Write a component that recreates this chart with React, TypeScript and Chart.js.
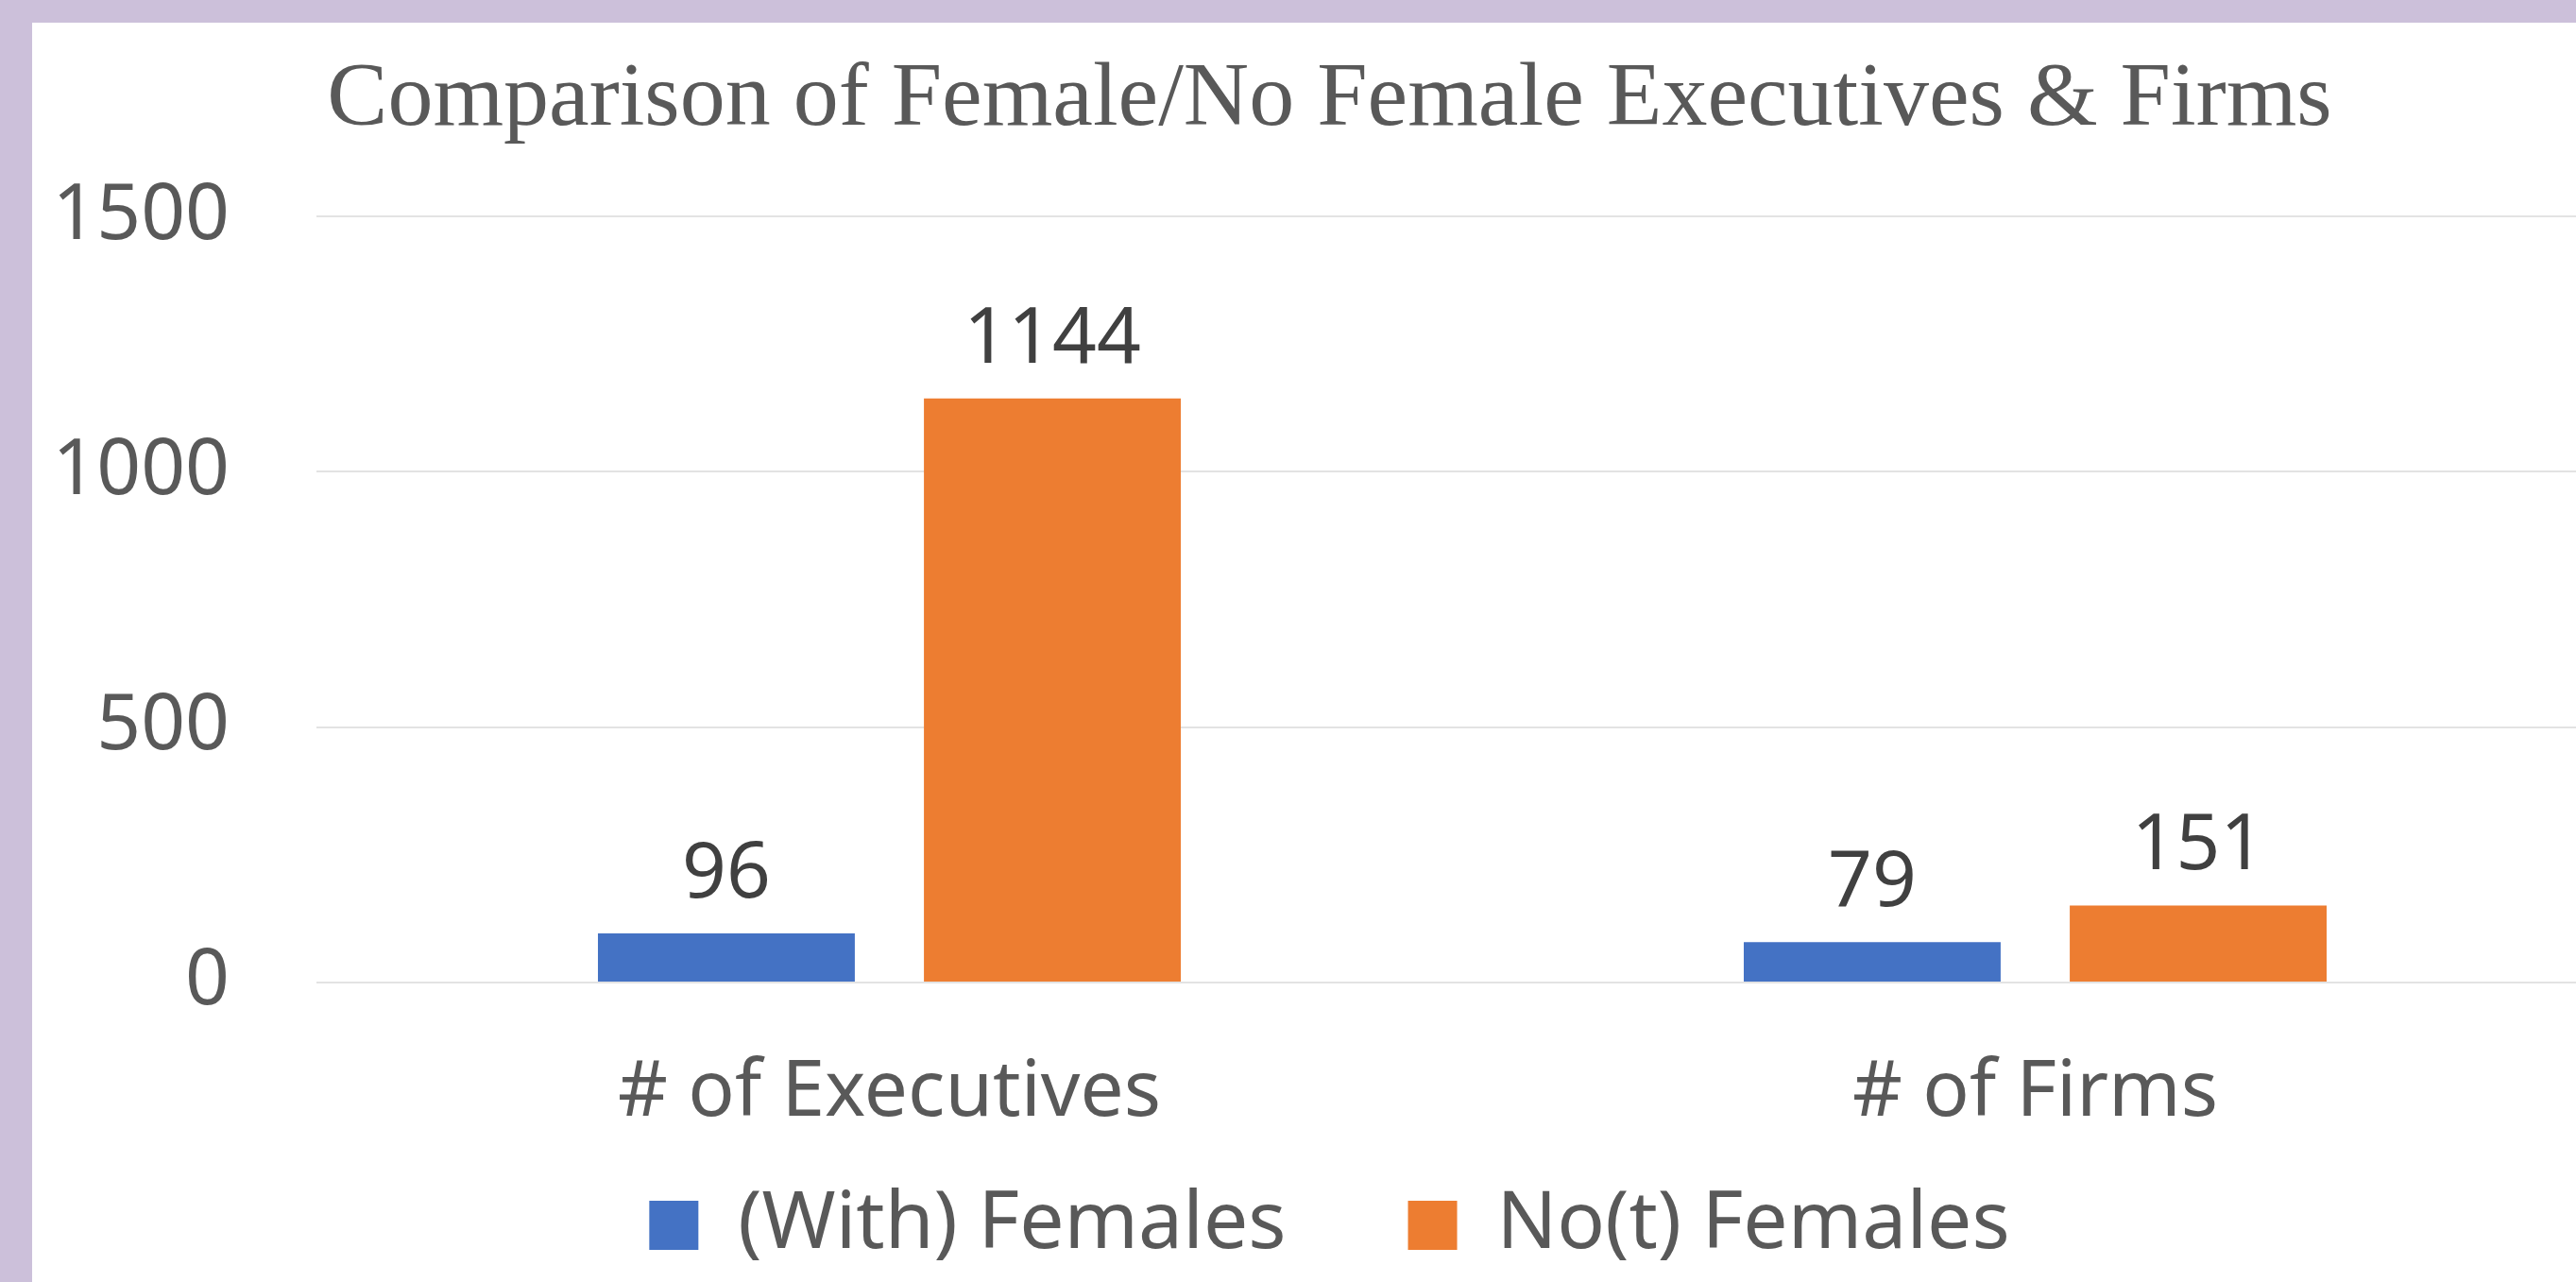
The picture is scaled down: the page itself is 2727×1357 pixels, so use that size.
import React, { useEffect, useRef } from "react";
import { Chart, registerables } from "chart.js";

Chart.register(...registerables);

const chartTitle = "Comparison of Female/No Female Executives & Firms";
const categories = ["# of Executives", "# of Firms"];
const seriesNames = ["(With) Females", "No(t) Females"];
const withFemales = [96, 79];
const notFemales = [1144, 151];
const yTicks = [0, 500, 1000, 1500];

const BLUE = "#4472C4";
const ORANGE = "#ED7D31";
const AXIS_TEXT = "#595959";
const LABEL_TEXT = "#404040";
const SANS = "'Noto Sans', 'Open Sans', sans-serif";
const SERIF = "'Liberation Serif', 'DejaVu Serif', serif";

const valueLabels = {
  id: "valueLabels",
  afterDatasetsDraw(chart: any) {
    const ctx = chart.ctx;
    ctx.save();
    ctx.font = `82px ${SANS}`;
    ctx.fillStyle = LABEL_TEXT;
    ctx.textAlign = "center";
    ctx.textBaseline = "alphabetic";
    chart.data.datasets.forEach((ds: any, di: number) => {
      const meta = chart.getDatasetMeta(di);
      meta.data.forEach((bar: any, i: number) => {
        ctx.fillText(String(ds.data[i]), bar.x, bar.y - 38);
      });
    });
    ctx.restore();
  },
};

export default function App() {
  const ref = useRef<HTMLCanvasElement | null>(null);

  useEffect(() => {
    if (!ref.current) return;
    Chart.defaults.font.family = SANS;
    const chart = new Chart(ref.current, {
      type: "bar",
      data: {
        labels: categories,
        datasets: [
          {
            label: seriesNames[0],
            data: withFemales,
            backgroundColor: BLUE,
            borderWidth: 0,
            categoryPercentage: 0.569,
            barPercentage: 0.788,
          },
          {
            label: seriesNames[1],
            data: notFemales,
            backgroundColor: ORANGE,
            borderWidth: 0,
            categoryPercentage: 0.569,
            barPercentage: 0.788,
          },
        ],
      },
      options: {
        responsive: false,
        animation: false,
        devicePixelRatio: 1,
        layout: { padding: { top: 0, left: 20, right: 0, bottom: 8 } },
        plugins: {
          tooltip: { enabled: false },
          title: {
            display: true,
            text: chartTitle,
            color: AXIS_TEXT,
            font: { family: SERIF, size: 96, weight: "normal", lineHeight: 1.2 },
            padding: { top: 25, bottom: 65 },
          },
          legend: {
            display: true,
            position: "bottom",
            labels: {
              color: AXIS_TEXT,
              font: { family: SANS, size: 84 },
              boxWidth: 52,
              boxHeight: 52,
              padding: 129,
            },
          },
        },
        scales: {
          x: {
            grid: { display: false, drawTicks: false },
            border: { display: false },
            ticks: {
              color: AXIS_TEXT,
              font: { family: SANS, size: 82, lineHeight: 1.2 },
              padding: 68,
            },
            afterFit: (scale: any) => {
              scale.height = 86;
              scale._computeLabelArea = () => undefined;
            },
          },
          y: {
            min: 0,
            max: 1500,
            grid: { color: "#E3E3E3", lineWidth: 2, drawTicks: false },
            border: { display: false },
            ticks: {
              color: AXIS_TEXT,
              font: { family: SANS, size: 82, lineHeight: 1.2 },
              padding: 92,
              callback: (v: any) => String(v),
            },
            afterBuildTicks: (scale: any) => {
              scale.ticks = yTicks.map((v) => ({ value: v }));
            },
            afterFit: (scale: any) => {
              scale.width = 281;
              scale._computeLabelArea = () => undefined;
            },
          },
        },
      },
      plugins: [valueLabels],
    } as any);
    return () => chart.destroy();
  }, []);

  return (
    <div
      style={{
        position: "fixed",
        left: 0,
        top: 0,
        width: 2727,
        height: 1357,
        overflow: "hidden",
        background: "rgb(204,192,218)",
      }}
    >
      <div
        style={{
          position: "absolute",
          left: 34,
          top: 24,
          width: 2727,
          height: 1333,
          background: "#ffffff",
        }}
      >
        <canvas ref={ref} width={2727} height={1333} style={{ display: "block" }} />
      </div>
    </div>
  );
}
